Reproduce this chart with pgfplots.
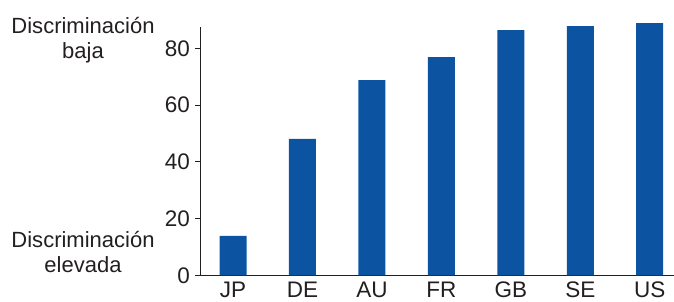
\documentclass[border=0pt]{standalone}
\usepackage{fontspec}
\setmainfont{Liberation Sans}
\usepackage{pgfplots}
\pgfplotsset{compat=1.18}
\definecolor{barblue}{RGB}{12,84,162}
\definecolor{txt}{RGB}{35,31,32}
\begin{document}
\begin{tikzpicture}
\begin{axis}[
  name=ax,
  scale only axis, width=474pt, height=248.3pt,
  xmin=-0.475, xmax=6.35, ymin=0, ymax=87.6,
  axis x line=bottom, axis y line=left,
  axis line style={-, line width=0.9pt, color=txt},
  ytick={0,20,40,60,80},
  xtick={0,1,2,3,4,5,6},
  xticklabels={JP,DE,AU,FR,GB,SE,US},
  tick align=outside, major tick length=5pt,
  xtick style={draw=none},
  ytick style={line width=0.9pt, color=txt},
  tick label style={font=\fontsize{22.5}{26}\selectfont, text=txt},
  yticklabel style={xshift=-1.5pt},
  xticklabel style={text height=16pt, yshift=2pt},
  /pgf/number format/assume math mode=true,
  clip=false,
  ybar, bar width=27pt,
]
\addplot[fill=barblue, draw=none] coordinates {(0,13.9)(1,48.1)(2,68.9)(3,77.0)(4,86.5)(5,87.9)(6,89.0)};
\end{axis}
\node[align=center, font=\fontsize{22}{25}\selectfont, text=txt, shift={(-150pt,235.3pt)}] at (ax.origin) {Discriminación\\baja};
\node[align=center, font=\fontsize{22}{25}\selectfont, text=txt, shift={(-150pt,22.8pt)}] at (ax.origin) {Discriminación\\elevada};
\pgfresetboundingbox
\path[use as bounding box] (ax.origin) ++(-233pt,-26.7pt) rectangle ++(674pt,302pt);
\end{tikzpicture}
\end{document}
